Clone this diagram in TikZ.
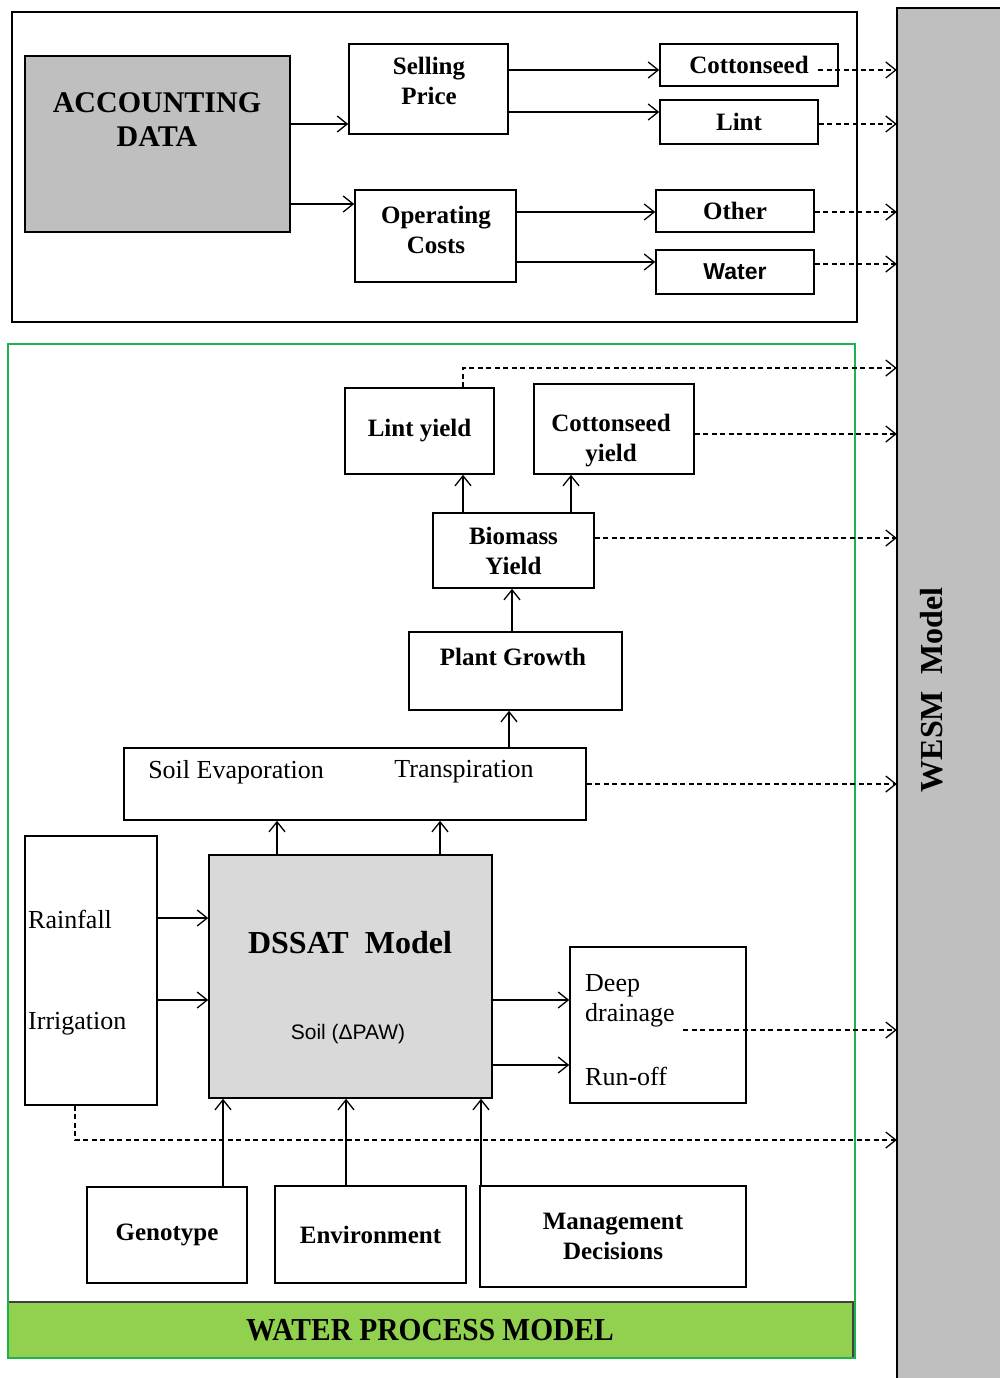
\documentclass[tikz,border=0pt]{standalone}
\usepackage{fontspec}
\setmainfont{Liberation Serif}
\newfontfamily\sansfont{Liberation Sans}
\newfontfamily\narrowserif[FakeStretch=0.92]{Liberation Serif}
\usetikzlibrary{arrows.meta}
\definecolor{cAcc}{RGB}{191,191,191}
\definecolor{cDssat}{RGB}{217,217,217}
\definecolor{cWesm}{RGB}{191,191,191}
\definecolor{cGreen}{RGB}{30,178,76}
\definecolor{cBand}{RGB}{146,208,80}
\tikzset{
  bx/.style={draw,line width=1.6pt,inner sep=0pt},
  lbl/.style={font=\fontsize{25}{30}\selectfont\bfseries,align=center,inner sep=0pt},
  txt/.style={font=\fontsize{26}{30}\selectfont,align=left,inner sep=0pt},
  arr/.style={line width=1.3pt,-{Straight Barb[length=10pt,width=16pt,line width=1.3pt]}},
  dsh/.style={arr,dash pattern=on 5pt off 3.5pt},
}
\begin{document}
\begin{tikzpicture}[x=1pt,y=-1pt]
\useasboundingbox (0,0) rectangle (1000,1378);
\node[fill=cWesm,inner sep=0pt,minimum width=103,minimum height=1370] (wesm) at (948.5,693) {};
\draw[line width=1.6pt] (wesm.south west) |- (wesm.north east);
\node[font=\fontsize{32}{36}\selectfont\bfseries,rotate=90,inner sep=0pt] (wesmt) at (932,690) {WESM\ \ Model};
\draw[line width=1.6pt] (12,12) rectangle (857,322);
\node[bx,fill=cAcc,minimum width=265,minimum height=176] (acc) at (157.5,144) {};
\node[lbl,font=\fontsize{30}{34}\selectfont\bfseries] (acct) at (157,120) {ACCOUNTING\\DATA};
\node[bx,minimum width=159,minimum height=90] (sell) at (428.5,89) {};
\node[lbl] (sellt) at (429,81) {Selling\\Price};
\node[bx,minimum width=161,minimum height=92] (oper) at (435.5,236) {};
\node[lbl] (opert) at (436,230) {Operating\\Costs};
\node[bx,lbl,minimum width=178,minimum height=42] (cseed) at (749,65) {Cottonseed};
\node[bx,lbl,minimum width=158,minimum height=44] (lint) at (739,122) {Lint};
\node[bx,lbl,minimum width=158,minimum height=42] (other) at (735,211) {Other};
\node[bx,lbl,font=\fontsize{23}{28}\sansfont\bfseries,minimum width=158,minimum height=44] (water) at (735,272) {Water};
\draw[arr] (acc.east |- 0,124) -- (sell.west |- 0,124);
\draw[arr] (acc.east |- 0,204) -- (oper.west |- 0,204);
\draw[arr] (sell.east |- 0,70) -- (cseed.west |- 0,70);
\draw[arr] (sell.east |- 0,112) -- (lint.west |- 0,112);
\draw[arr] (oper.east |- 0,212) -- (other.west |- 0,212);
\draw[arr] (oper.east |- 0,262) -- (water.west |- 0,262);
\draw[dsh] (818,70) -- (wesm.west |- 0,70);
\draw[dsh] (lint.east |- 0,124) -- (wesm.west |- 0,124);
\draw[dsh] (other.east |- 0,212) -- (wesm.west |- 0,212);
\draw[dsh] (water.east |- 0,264) -- (wesm.west |- 0,264);
\fill[cBand] (8,1302) rectangle (855,1358);
\draw[line width=1.6pt,black!75] (8,1302) -- (853,1302) -- (853,1358);
\node[font=\fontsize{32}{36}\narrowserif\bfseries,inner sep=0pt] (wpm) at (430,1330) {WATER PROCESS MODEL};
\draw[cGreen,line width=2.4pt] (8,344) rectangle (855,1358);
\node[bx,lbl,minimum width=149,minimum height=86] (lyield) at (419.5,431) {Lint yield};
\node[bx,minimum width=160,minimum height=90] (cyield) at (614,429) {};
\node[lbl] (cyieldt) at (611,441) {Cottonseed\\yield};
\node[bx,lbl,minimum width=161,minimum height=75] (bio) at (513.5,550.5) {Biomass\\Yield};
\node[bx,minimum width=213,minimum height=78] (plant) at (515.5,671) {};
\node[lbl] (plantt) at (513,657) {Plant Growth};
\node[bx,minimum width=462,minimum height=72] (evap) at (355,784) {};
\node[txt] (evapa) at (236,772) {Soil Evaporation};
\node[txt] (evapb) at (464,772) {Transpiration};
\node[bx,minimum width=132,minimum height=269] (rain) at (91,970.5) {};
\node[txt,anchor=west] (raina) at (28,919) {Rainfall};
\node[txt,anchor=west] (rainb) at (28,1024) {Irrigation};
\node[bx,fill=cDssat,minimum width=283,minimum height=243] (dssat) at (350.5,976.5) {};
\node[lbl,font=\fontsize{32}{36}\selectfont\bfseries] (dssatt) at (350,943) {DSSAT\ \ Model};
\node[inner sep=0pt,font=\fontsize{21}{24}\sansfont] (soilt) at (348,1034) {Soil (ΔPAW)};
\node[bx,minimum width=176,minimum height=156] (drain) at (658,1025) {};
\node[txt,anchor=west] (draina) at (585,1001) {Deep\\drainage};
\node[txt,anchor=west] (drainb) at (585,1076) {Run-off};
\node[bx,lbl,minimum width=160,minimum height=96] (geno) at (167,1235) {Genotype};
\node[bx,lbl,minimum width=191,minimum height=97] (env) at (370.5,1234.5) {Environment};
\node[bx,lbl,minimum width=266,minimum height=101] (mgmt) at (613,1236.5) {Management\\Decisions};
\draw[arr] (bio.north -| 463,0) -- (lyield.south -| 463,0);
\draw[arr] (bio.north -| 571,0) -- (cyield.south -| 571,0);
\draw[arr] (plant.north -| 512,0) -- (bio.south -| 512,0);
\draw[arr] (evap.north -| 509,0) -- (plant.south -| 509,0);
\draw[arr] (dssat.north -| 277,0) -- (evap.south -| 277,0);
\draw[arr] (dssat.north -| 440,0) -- (evap.south -| 440,0);
\draw[arr] (rain.east |- 0,918) -- (dssat.west |- 0,918);
\draw[arr] (rain.east |- 0,1000) -- (dssat.west |- 0,1000);
\draw[arr] (dssat.east |- 0,1000) -- (drain.west |- 0,1000);
\draw[arr] (dssat.east |- 0,1065) -- (drain.west |- 0,1065);
\draw[arr] (geno.north -| 223,0) -- (dssat.south -| 223,0);
\draw[arr] (env.north -| 346,0) -- (dssat.south -| 346,0);
\draw[arr] (mgmt.north -| 481,0) -- (dssat.south -| 481,0);
\draw[dsh] (lyield.north -| 463,0) |- (wesm.west |- 0,368);
\draw[dsh] (cyield.east |- 0,434) -- (wesm.west |- 0,434);
\draw[dsh] (bio.east |- 0,538) -- (wesm.west |- 0,538);
\draw[dsh] (evap.east |- 0,784) -- (wesm.west |- 0,784);
\draw[dsh] (683,1030) -- (wesm.west |- 0,1030);
\draw[dsh] (rain.south -| 75,0) |- (wesm.west |- 0,1140);
\end{tikzpicture}
\end{document}
